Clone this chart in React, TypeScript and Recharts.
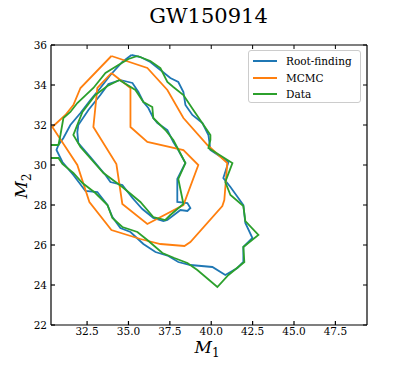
import { LineChart, Line, XAxis, YAxis, ReferenceLine } from 'recharts'

// contour vertices as [M1, M2]
const rootFindingOuter: [number, number][] = [
  [35.18, 35.5], [35.72, 35.4], [36.32, 35.15], [36.93, 34.75], [37.53, 34.35], [38.01, 34.15],
  [38.32, 33.65], [38.44, 33.0], [38.86, 32.5], [39.47, 32.1], [39.83, 31.5], [39.95, 30.75],
  [41.04, 30.15], [40.73, 29.35], [41.16, 28.9], [41.94, 28.0], [42.06, 27.1], [42.49, 26.35],
  [41.94, 25.9], [41.94, 25.15], [41.58, 24.85], [40.85, 24.5], [40.07, 24.9], [38.74, 25.0],
  [38.01, 25.15], [37.41, 25.45], [36.63, 25.65], [35.9, 26.05], [35.12, 26.65], [34.51, 26.85],
  [34.03, 27.4], [33.73, 28.0], [33.12, 28.65], [32.4, 28.7], [31.67, 29.5], [31.01, 30.15],
  [30.65, 30.75], [30.77, 31.0], [31.07, 31.35], [31.49, 32.0], [32.1, 32.6], [32.7, 33.25],
  [33.3, 33.85], [33.91, 34.5], [34.63, 35.15],
]
const rootFindingInner: [number, number][] = [
  [34.51, 34.25], [35.24, 34.1], [35.6, 33.65], [35.9, 33.15], [36.2, 32.85], [36.5, 32.35],
  [36.75, 32.1], [37.35, 31.75], [37.71, 31.15], [38.01, 30.75], [38.44, 30.1], [37.95, 29.3],
  [37.95, 28.15], [38.56, 28.1], [38.74, 27.85], [38.56, 27.7], [38.14, 27.75], [37.35, 27.25],
  [37.11, 27.2], [36.5, 27.35], [35.84, 27.8], [35.24, 28.35], [34.63, 29.0], [33.91, 29.15],
  [33.61, 29.5], [32.7, 30.4], [31.97, 31.1], [31.91, 31.65], [31.97, 32.0], [32.58, 32.75],
  [33.3, 33.5], [33.79, 34.05],
]
const mcmcOuter: [number, number][] = [
  [33.97, 35.45], [36.14, 34.85], [37.35, 33.75], [38.32, 32.35], [39.77, 31.0], [40.97, 30.1],
  [40.79, 28.25], [40.67, 27.95], [38.74, 26.15], [38.38, 25.95], [36.93, 26.05], [35.72, 26.3],
  [33.97, 26.75], [32.64, 28.15], [31.91, 30.0], [30.4, 31.9], [31.19, 32.5], [31.67, 33.0],
  [32.1, 33.85],
]
const mcmcInner: [number, number][] = [
  [33.97, 34.6], [35.12, 33.85], [35.12, 31.9], [36.14, 31.15], [38.32, 30.75], [39.22, 30.0],
  [38.32, 28.0], [36.14, 27.05], [34.63, 28.05], [34.27, 30.05], [32.88, 31.9], [33.12, 33.85],
]
const dataOuter: [number, number][] = [
  [35.54, 35.45], [36.32, 35.2], [36.93, 34.85], [37.35, 34.15], [37.71, 33.9], [38.32, 33.5],
  [38.92, 32.75], [39.95, 31.5], [39.95, 31.25], [39.83, 30.85], [41.28, 30.1], [40.85, 29.15],
  [41.16, 28.5], [41.94, 27.95], [42.06, 27.2], [42.85, 26.5], [41.94, 25.9], [42.0, 25.15],
  [41.04, 24.5], [40.37, 23.9], [39.16, 24.75], [38.56, 25.1], [37.77, 25.35], [37.05, 25.6],
  [36.14, 26.25], [35.54, 26.65], [34.63, 26.9], [34.03, 27.35], [33.73, 28.0], [33.0, 28.6],
  [32.22, 29.1], [31.67, 29.6], [31.01, 30.05], [30.77, 30.35], [30.0, 30.35], [30.0, 31.0],
  [30.77, 31.0], [30.89, 31.5], [31.07, 32.35], [31.49, 32.65], [31.91, 33.1], [32.88, 33.85],
  [33.61, 34.6], [34.39, 35.0], [35.0, 35.3],
]
const dataInner: [number, number][] = [
  [34.45, 34.25], [35.42, 33.75], [35.9, 33.15], [36.44, 32.9], [36.5, 32.35], [37.23, 31.75],
  [37.71, 31.25], [38.44, 30.1], [38.01, 29.3], [38.32, 28.05], [37.53, 27.5], [37.23, 27.25],
  [36.5, 27.4], [35.72, 28.15], [34.63, 28.9], [33.49, 29.6], [32.1, 30.9], [31.67, 31.5],
  [32.22, 32.65], [33.0, 33.5], [33.73, 33.95],
]

const xTicks = [32.5, 35.0, 37.5, 40.0, 42.5, 45.0, 47.5]
const yTicks = [22, 24, 26, 28, 30, 32, 34, 36]
const xMin = 30.32
const xMax = 49.41
const yMin = 22
const yMax = 36

const BLUE = '#1f77b4'
const ORANGE = '#ff7f0e'
const GREEN = '#2ca02c'
const FONT = '"DejaVu Serif", serif'

const legendItems = [
  { name: 'Root-finding', color: BLUE },
  { name: 'MCMC', color: ORANGE },
  { name: 'Data', color: GREEN },
]

const contours = [
  { key: 'rf-out', pts: rootFindingOuter, color: BLUE },
  { key: 'rf-in', pts: rootFindingInner, color: BLUE },
  { key: 'mc-out', pts: mcmcOuter, color: ORANGE },
  { key: 'mc-in', pts: mcmcInner, color: ORANGE },
  { key: 'd-out', pts: dataOuter, color: GREEN },
  { key: 'd-in', pts: dataInner, color: GREEN },
]

const closed = (pts: [number, number][]) =>
  [...pts, pts[0]].map(([m1, m2]) => ({ m1, m2 }))

const tickStyle = { fill: '#000', fontSize: 10.5, fontFamily: FONT }
// inward tick length on the top / right frame, in data units (~4px)
const TICK_X = 0.24
const TICK_Y = 0.2

export default function App() {
  return (
    <div style={{ position: 'absolute', left: 0, top: 0, width: 407, height: 366, background: '#fff' }}>
      <div
        style={{
          position: 'absolute', left: 50, width: 317, top: 4, textAlign: 'center',
          fontFamily: FONT, fontSize: 21, color: '#000',
        }}
      >
        GW150914
      </div>
      <LineChart width={407} height={366} margin={{ top: 45, right: 40, bottom: 0, left: 0 }}>
        <XAxis
          dataKey="m1"
          type="number"
          domain={[xMin, xMax]}
          ticks={xTicks}
          allowDataOverflow
          height={41}
          tickFormatter={(v: number) => v.toFixed(1)}
          tick={tickStyle}
          tickSize={-4}
          tickMargin={7}
          stroke="#000"
          strokeWidth={1.2}
          label={{
            content: () => (
              <text x={207} y={353} textAnchor="middle" fontFamily={FONT} fill="#000">
                <tspan fontStyle="italic" fontSize={17}>M</tspan>
                <tspan fontSize={12} dy={4}>1</tspan>
              </text>
            ),
          }}
        />
        <YAxis
          type="number"
          domain={[yMin, yMax]}
          ticks={yTicks}
          width={51}
          tick={tickStyle}
          tickSize={-4}
          tickMargin={8}
          stroke="#000"
          strokeWidth={1.2}
          label={{
            content: () => (
              <text
                x={0}
                y={0}
                transform="translate(27,186) rotate(-90)"
                textAnchor="middle"
                fontFamily={FONT}
                fill="#000"
              >
                <tspan fontStyle="italic" fontSize={17}>M</tspan>
                <tspan fontSize={12} dy={4}>2</tspan>
              </text>
            ),
          }}
        />
        {contours.map((c) => (
          <Line
            key={c.key}
            data={closed(c.pts)}
            dataKey="m2"
            type="linear"
            stroke={c.color}
            strokeWidth={1.8}
            dot={false}
            activeDot={false}
            isAnimationActive={false}
          />
        ))}
        {/* top and right frame with inward ticks */}
        <ReferenceLine y={yMax} stroke="#000" strokeWidth={1.2} />
        <ReferenceLine x={xMax} stroke="#000" strokeWidth={1.2} />
        {xTicks.map((t) => (
          <ReferenceLine
            key={'tx' + t}
            segment={[{ x: t, y: yMax }, { x: t, y: yMax - TICK_Y }]}
            stroke="#000"
            strokeWidth={1}
          />
        ))}
        {yTicks.map((t) => (
          <ReferenceLine
            key={'ty' + t}
            segment={[{ x: xMax, y: t }, { x: xMax - TICK_X, y: t }]}
            stroke="#000"
            strokeWidth={1}
          />
        ))}
      </LineChart>
      <div
        style={{
          position: 'absolute', left: 248, top: 50, width: 111, height: 51,
          border: '1px solid #cccccc', borderRadius: 3, background: 'rgba(255,255,255,0.8)',
          fontFamily: FONT, fontSize: 10.5, color: '#000',
        }}
      >
        {legendItems.map((it, i) => (
          <div key={it.name} style={{ position: 'absolute', left: 4, top: 2 + i * 16.5, height: 16, display: 'flex', alignItems: 'center' }}>
            <span style={{ display: 'inline-block', width: 24, height: 2, background: it.color, marginRight: 9 }} />
            <span>{it.name}</span>
          </div>
        ))}
      </div>
    </div>
  )
}
